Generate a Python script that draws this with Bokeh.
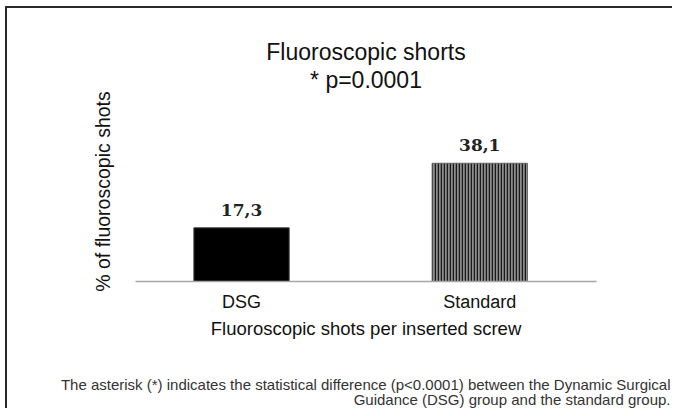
from bokeh.plotting import figure
from bokeh.models import Range1d, FixedTicker, ColumnDataSource, LabelSet, Title
from bokeh.core.properties import value
from bokeh.embed import file_html
from bokeh.resources import INLINE

# ---- data ----
categories = ["DSG", "Standard"]
values = [17.3, 38.1]
value_labels = ["17,3", "38,1"]
title_lines = ["Fluoroscopic shorts", "* p=0.0001"]
y_label = "% of fluoroscopic shots"
x_label = "Fluoroscopic shots per inserted screw"
caption_lines = [
    "The asterisk (*) indicates the statistical difference (p<0.0001) between the Dynamic Surgical",
    "Guidance (DSG) group and the standard group.",
]

# ---- layout (page pixels) ----
OX, OY = 8, 7          # canvas origin on page
W, H = 667, 402
FL, FR, FT, FB = 136, 597, 100, 280   # frame edges on page
X0, X1 = -0.445, 1.49
Y0, Y1 = 0, 58

SANS = "Liberation Sans"

p = figure(
    width=W, height=H,
    x_range=Range1d(X0, X1), y_range=Range1d(Y0, Y1),
    output_backend="svg", toolbar_location=None,
    min_border_left=FL - OX, min_border_right=OX + W - FR,
    min_border_top=FT - OY, min_border_bottom=OY + H - FB,
    margin=(6, 0, 0, 5),
    stylesheets=[":host { border-top: 2px solid #2a2a2a; border-left: 2px solid #2a2a2a; }"],
)
p.outline_line_color = None
p.xgrid.visible = False
p.ygrid.visible = False
p.background_fill_color = "white"
p.border_fill_color = "white"

xs = list(range(len(categories)))
src = ColumnDataSource(dict(x=xs, top=values, text=value_labels))

# DSG solid black bar, Standard vertical-striped bar
p.vbar(x=[xs[0]], top=[values[0]], width=0.4, bottom=0,
       fill_color="black", line_color="#444444", line_width=1)
p.vbar(x=[xs[1]], top=[values[1]], width=0.4, bottom=0,
       fill_color="#8c8c8c", line_color="#666666", line_width=1,
       hatch_pattern="vertical_line", hatch_color="#1a1a1a",
       hatch_scale=3, hatch_weight=1.5)

p.add_layout(LabelSet(x="x", y="top", text="text", source=src,
                      text_align="center", text_baseline="alphabetic",
                      y_offset=12, text_font=value("DejaVu Serif"),
                      text_font_style="bold", text_font_size="17px",
                      text_color="#222222"))

# x axis
xa = p.xaxis[0]
xa.ticker = FixedTicker(ticks=xs)
xa.major_label_overrides = {i: c for i, c in enumerate(categories)}
xa.axis_line_color = "#a6a6a6"
xa.axis_line_width = 1.5
xa.major_tick_line_color = None
xa.minor_tick_line_color = None
xa.major_label_standoff = 4
xa.major_label_text_font = SANS
xa.major_label_text_font_size = "18px"
xa.major_label_text_color = "#111111"
xa.axis_label = x_label
xa.axis_label_text_font = SANS
xa.axis_label_text_font_style = "normal"
xa.axis_label_text_font_size = "18.5px"
xa.axis_label_text_color = "#111111"
xa.axis_label_standoff = 3

# y axis (label only)
ya = p.yaxis[0]
ya.ticker = FixedTicker(ticks=[])
ya.axis_line_color = None
ya.major_tick_line_color = None
ya.minor_tick_line_color = None
ya.major_label_text_font_size = "0px"
ya.axis_label = y_label
ya.axis_label_text_font = SANS
ya.axis_label_text_font_style = "normal"
ya.axis_label_text_font_size = "19.5px"
ya.axis_label_text_color = "#111111"
ya.axis_label_standoff = 22

# titles (above; first added sits nearest the frame)
p.add_layout(Title(text=title_lines[1], align="center",
                   text_font=SANS, text_font_size="23px",
                   text_font_style="normal", text_color="#111111",
                   standoff=18), "above")
p.add_layout(Title(text=title_lines[0], align="center",
                   text_font=SANS, text_font_size="23px",
                   text_font_style="normal", text_color="#111111",
                   standoff=-18), "above")

# caption (below the x axis; zero-height panels, text pushed down by standoff)
for line, so in zip(caption_lines, [-102, -132]):
    p.add_layout(Title(text=line, align="right", offset=-74,
                       text_font=SANS, text_font_size="15px",
                       text_font_style="normal", text_color="#333333",
                       standoff=so), "below")

open("out.html", "w").write(file_html(p, INLINE))
